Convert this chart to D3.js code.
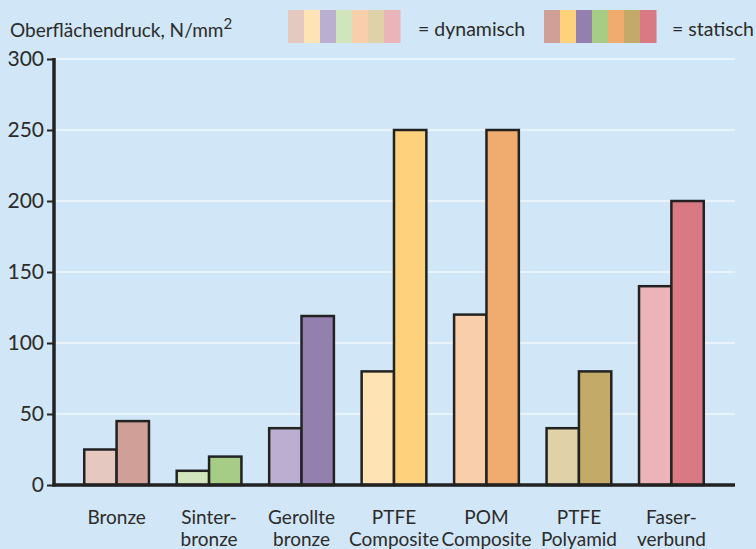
<!DOCTYPE html>
<html>
<head>
<meta charset="utf-8">
<script src="https://cdn.jsdelivr.net/npm/d3@7"></script>
<style>
body { margin: 0; background: #d1e6f6; }
svg { display: block; }
text { font-family: Lato, sans-serif; fill: #2b2b2b; }
</style>
</head>
<body>
<svg id="chart" width="756" height="549"></svg>
<script>
'use strict';

// data
const categories = ['Bronze', 'Sinter-\nbronze', 'Gerollte\nbronze', 'PTFE\nComposite', 'POM\nComposite', 'PTFE\nPolyamid', 'Faser-\nverbund'];
const dynamisch = [25, 10, 40, 80, 120, 40, 140];
const statisch = [45, 20, 119, 250, 250, 80, 200];
const yTicks = [0, 50, 100, 150, 200, 250, 300];
// colours per category (bar order)
const dynColors = ['#e5c9c1', '#d1e5bc', '#baafd0', '#fee3b5', '#f8cfaa', '#dfd1a8', '#ebb4b8'];
const statColors = ['#d09f97', '#a7cc86', '#9380ae', '#fed27c', '#f0ab6e', '#c4aa69', '#d97983'];
// order of the swatches in the legend (indices into the colour lists)
const legendOrder = [0, 3, 2, 1, 4, 5, 6];

const svg = d3.select('#chart');
const width = 756;
const height = 549;

svg.append('rect').attr('width', width).attr('height', height).attr('fill', '#d1e6f6');

const axisX = 54;
const plotRight = 735;

const y = d3.scaleLinear().domain([0, 300]).range([485, 59]);
const x = d3.scaleBand().domain(categories).range([56.5, 731.5]).paddingInner(0.3).paddingOuter(0.3);
const sub = d3.scaleBand().domain(['dyn', 'stat']).range([0, x.bandwidth()]);

// grid
svg.append('g')
    .selectAll('line')
    .data(yTicks.filter(t => t > 0))
    .enter()
    .append('line')
    .attr('x1', axisX)
    .attr('x2', plotRight)
    .attr('y1', d => y(d))
    .attr('y2', d => y(d))
    .attr('stroke', '#ffffff')
    .attr('stroke-width', 1.2);

// bars
const rows = categories.map((c, i) => ({ c, i }));
const group = svg.append('g').selectAll('g')
    .data(rows)
    .enter()
    .append('g')
    .attr('transform', d => `translate(${x(d.c)},0)`);

const barStyle = sel => sel
    .attr('stroke', '#222')
    .attr('stroke-width', 2.5);

group.append('rect')
    .attr('x', sub('dyn'))
    .attr('y', d => y(dynamisch[d.i]))
    .attr('width', sub.bandwidth())
    .attr('height', d => y(0) - y(dynamisch[d.i]))
    .attr('fill', d => dynColors[d.i])
    .call(barStyle);

group.append('rect')
    .attr('x', sub('stat'))
    .attr('y', d => y(statisch[d.i]))
    .attr('width', sub.bandwidth())
    .attr('height', d => y(0) - y(statisch[d.i]))
    .attr('fill', d => statColors[d.i])
    .call(barStyle);

// y axis
const yAxis = svg.append('g')
    .attr('transform', `translate(${axisX},0)`)
    .call(d3.axisLeft(y).tickValues(yTicks).tickSize(7).tickPadding(3));
yAxis.select('.domain').remove();
yAxis.selectAll('.tick line').attr('stroke', '#222').attr('stroke-width', 2);
yAxis.selectAll('.tick text')
    .attr('font-size', 21)
    .attr('font-family', 'Lato, sans-serif')
    .attr('fill', '#2b2b2b');

svg.append('line')
    .attr('x1', axisX).attr('x2', axisX)
    .attr('y1', y(300) - 1).attr('y2', y(0) + 1.5)
    .attr('stroke', '#222').attr('stroke-width', 3.5);

svg.append('line')
    .attr('x1', axisX - 1.5).attr('x2', plotRight)
    .attr('y1', y(0)).attr('y2', y(0))
    .attr('stroke', '#222').attr('stroke-width', 3.5);

// category labels
const lab = svg.append('g').selectAll('text')
    .data(rows)
    .enter()
    .append('text')
    .attr('text-anchor', 'middle')
    .attr('font-size', 19)
    .attr('transform', d => `translate(${x(d.c) + x.bandwidth() / 2},524)`);
lab.selectAll('tspan')
    .data(d => d.c.split('\n'))
    .enter()
    .append('tspan')
    .attr('x', 0)
    .attr('dy', (d, i) => i === 0 ? 0 : 22)
    .text(d => d);

// title
const title = svg.append('text')
    .attr('x', 10)
    .attr('y', 37)
    .attr('font-size', 19);
title.append('tspan').text('Oberflächendruck, N/mm');
title.append('tspan').attr('dy', -8).attr('font-size', 15).text('2');

// legend
const sw = 16;
const legend = [
    { x0: 288, colors: dynColors, label: '= dynamisch', tx: 418 },
    { x0: 544, colors: statColors, label: '= statisch', tx: 672 }
];
legend.forEach(l => {
    svg.append('g').selectAll('rect')
        .data(legendOrder)
        .enter()
        .append('rect')
        .attr('x', (d, i) => l.x0 + i * sw)
        .attr('y', 10)
        .attr('width', sw + 0.5)
        .attr('height', 33)
        .attr('fill', d => l.colors[d]);
    svg.append('text')
        .attr('x', l.tx)
        .attr('y', 36)
        .attr('font-size', 19.5)
        .text(l.label);
});
</script>
</body>
</html>
